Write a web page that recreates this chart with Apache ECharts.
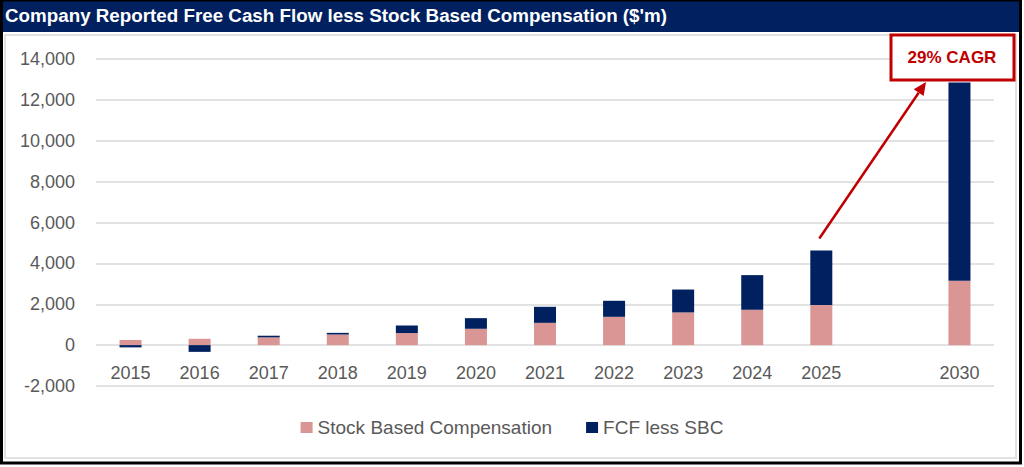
<!DOCTYPE html>
<html>
<head>
<meta charset="utf-8">
<script src="https://cdn.jsdelivr.net/npm/echarts@6/dist/echarts.min.js"></script>
<style>
  html, body { margin: 0; padding: 0; background: #fff; }
  #chart { width: 1024px; height: 467px; }
</style>
</head>
<body>
<div id="chart"></div>
<script>
var years = ['2015', '2016', '2017', '2018', '2019', '2020', '2021', '2022', '2023', '2024', '2025', '', '2030'];
var sbc = [250, 310, 380, 520, 590, 800, 1090, 1385, 1600, 1730, 1960, null, 3150];
var fcfLessSbc = [-110, -330, 80, 80, 370, 520, 785, 785, 1120, 1695, 2670, null, 9700];
var yTicks = { min: -2000, max: 14000, step: 2000 };
var cagrLabel = '29% CAGR';

var navy = '#002060';
var pink = '#D99694';
var red = '#C00000';
var grey = '#595959';
var rule = '#D9D9D9';
var font = "'Liberation Sans', Arial, sans-serif";

function fmt(v) {
    var s = Math.abs(v).toString().replace(/\B(?=(\d{3})+(?!\d))/g, ',');
    return (v < 0 ? '-' : '') + s;
}

var chart = echarts.init(document.getElementById('chart'), null, { renderer: 'svg' });
chart.setOption({
    animation: false,
    textStyle: { fontFamily: font },
    title: {
        text: "Company Reported Free Cash Flow less Stock Based Compensation ($'m)",
        left: 0, top: 1,
        textStyle: { color: '#fff', fontSize: 18.8, fontWeight: 'bold', fontFamily: font }
    },
    legend: {
        bottom: 25, left: 'center',
        itemWidth: 12, itemHeight: 11, itemGap: 34,
        icon: 'rect',
        textStyle: { color: grey, fontSize: 19, fontFamily: font },
        data: ['Stock Based Compensation', 'FCF less SBC']
    },
    grid: { left: 96, right: 30, top: 59, bottom: 81 },
    xAxis: {
        type: 'category', data: years,
        position: 'bottom', offset: -41,
        axisLine: { show: false, onZero: false },
        axisTick: { show: false },
        axisLabel: { color: grey, fontSize: 18, margin: 19, interval: 0 }
    },
    yAxis: {
        type: 'value', min: yTicks.min, max: yTicks.max, interval: yTicks.step,
        axisLine: { show: false }, axisTick: { show: false },
        axisLabel: { color: grey, fontSize: 18, margin: 21, formatter: fmt },
        splitLine: { lineStyle: { color: rule, width: 1.5 } }
    },
    series: [
        { name: 'Stock Based Compensation', type: 'bar', stack: 'total', data: sbc,
          barWidth: 22, itemStyle: { color: pink } },
        { name: 'FCF less SBC', type: 'bar', stack: 'total', data: fcfLessSbc,
          barWidth: 22, itemStyle: { color: navy } }
    ]
});

// frame, title bar and the CAGR call-out
var i25 = years.indexOf('2025');
var top25 = chart.convertToPixel({ gridIndex: 0 }, [i25, sbc[i25] + fcfLessSbc[i25]]);
var x0 = top25[0] - 2, y0 = top25[1] - 12;
var x1 = 926, y1 = 82;
var ang = Math.atan2(y1 - y0, x1 - x0);
var hl = 13, hw = 6;
var bx = x1 - hl * Math.cos(ang), by = y1 - hl * Math.sin(ang);
var head = [
    [x1, y1],
    [bx + hw * Math.sin(ang), by - hw * Math.cos(ang)],
    [bx - hw * Math.sin(ang), by + hw * Math.cos(ang)]
];

chart.setOption({
    graphic: [
        { type: 'rect', z: -10, silent: true, shape: { x: 0, y: 0, width: 1022, height: 32 },
          style: { fill: navy } },
        { type: 'rect', z: -10, silent: true, shape: { x: 5, y: 35, width: 1011, height: 423 },
          style: { fill: 'none', stroke: '#E2E2E2', lineWidth: 2 } },
        { type: 'rect', z: 100, silent: true, shape: { x: 1.5, y: 0, width: 1019, height: 463 },
          style: { fill: 'none', stroke: '#000', lineWidth: 3 } },
        { type: 'line', z: 50, silent: true, shape: { x1: x0, y1: y0, x2: bx, y2: by },
          style: { stroke: red, lineWidth: 2.5 } },
        { type: 'polygon', z: 50, silent: true, shape: { points: head }, style: { fill: red } },
        { type: 'rect', z: 60, silent: true, shape: { x: 891, y: 35, width: 123, height: 45 },
          style: { fill: '#fff', stroke: red, lineWidth: 3 } },
        { type: 'text', z: 61, silent: true, x: 952, y: 57,
          style: { text: cagrLabel, fill: red, font: 'bold 17px ' + font, align: 'center', verticalAlign: 'middle' } }
    ]
});
window.addEventListener('resize', function() { chart.resize(); });
</script>
</body>
</html>
